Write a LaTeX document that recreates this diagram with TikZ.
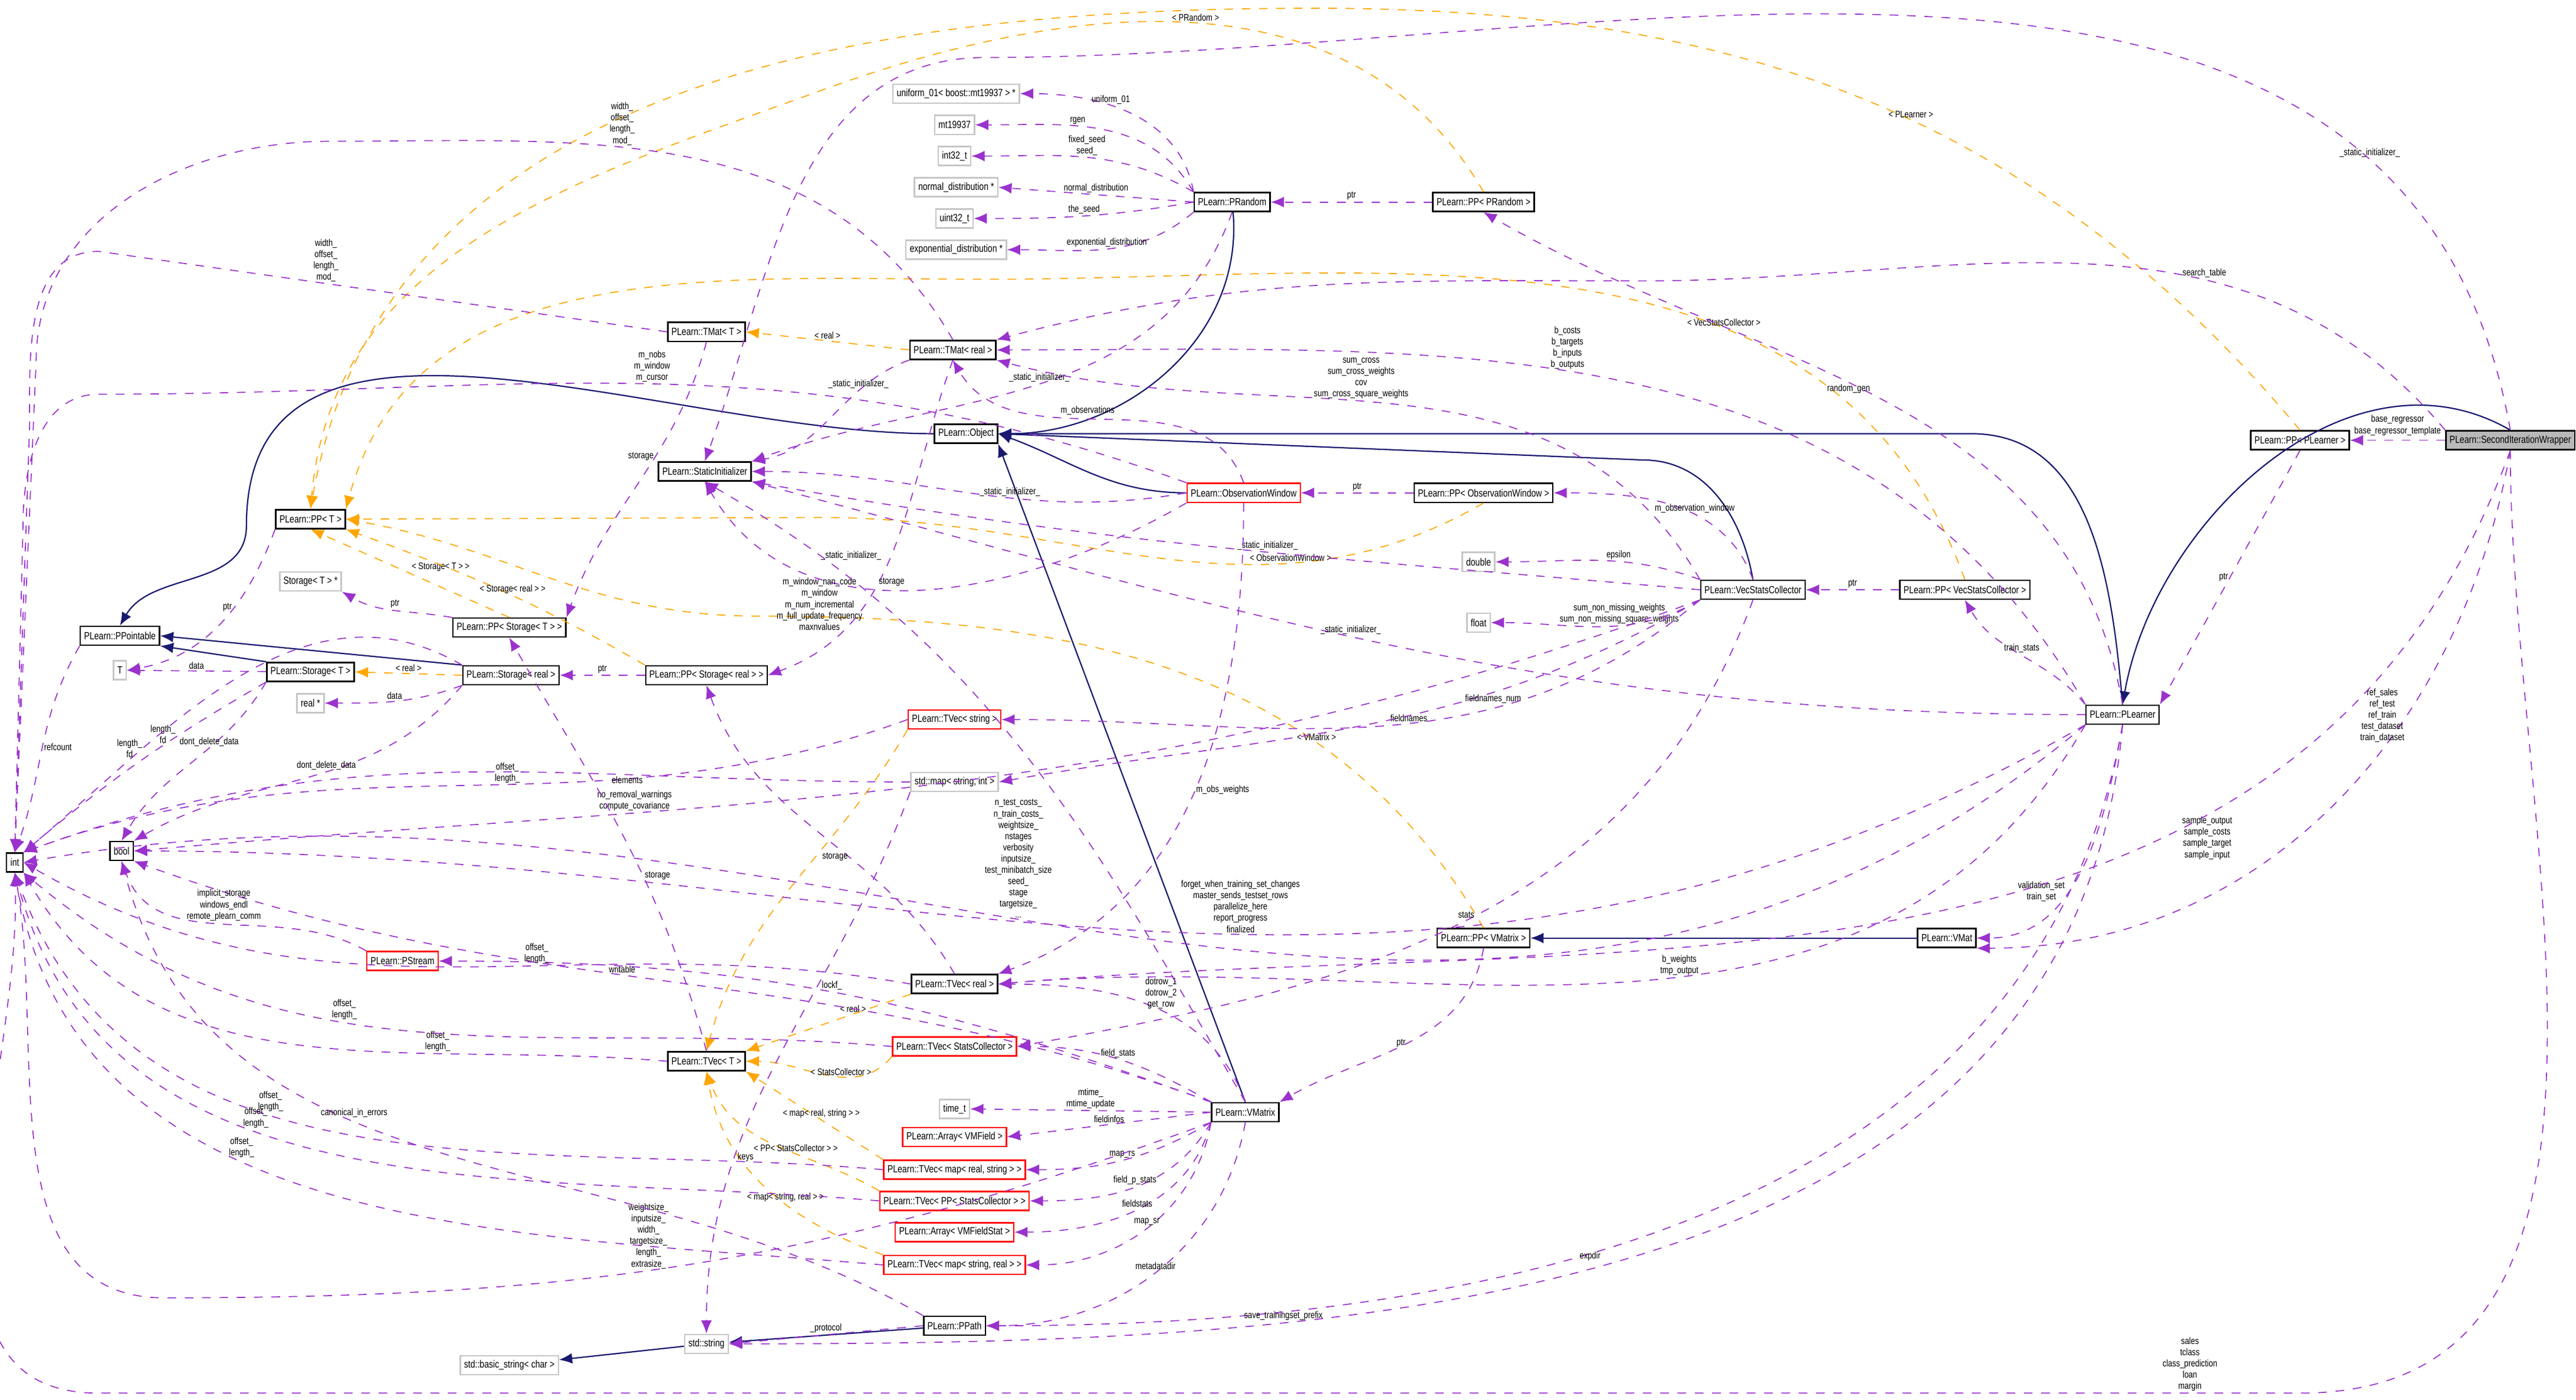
\documentclass[tikz,border=0pt]{standalone}
\usepackage{fontspec}
\setmainfont{Liberation Sans}[FakeStretch=0.8]
\usetikzlibrary{arrows.meta}

\definecolor{dxpurple}{RGB}{154,50,205}
\definecolor{dxorange}{RGB}{255,165,0}
\definecolor{dxnavy}{RGB}{25,25,112}

\tikzset{
  cls/.style={draw=black, line width=0.5pt, inner sep=1.3pt, minimum height=0.23cm, font=\fontsize{3.6}{4}\selectfont},
  ext/.style={cls, draw=gray!45},
  bad/.style={cls, draw=red},
  main/.style={cls, fill=gray!55},
  mem/.style={draw=dxpurple, dashed, line width=0.35pt, -{Latex[length=1.6mm,width=1.3mm]}},
  tpl/.style={draw=dxorange, dashed, line width=0.35pt, -{Latex[length=1.6mm,width=1.3mm]}},
  inh/.style={draw=dxnavy, line width=0.45pt, -{Latex[length=1.6mm,width=1.3mm]}},
  lbl/.style={font=\fontsize{3.3}{3.9}\selectfont, align=center, inner sep=0.5pt}
}

\begin{document}
\begin{tikzpicture}[x=0.02cm, y=-0.02cm]
\useasboundingbox (0,0) rectangle (1568,852);

% classes
\node[main] (siw) at (1528,268) {PLearn::SecondIterationWrapper};
\node[cls] (pplearner) at (1400,268) {PLearn::PP< PLearner >};
\node[cls] (plearner) at (1292,435) {PLearn::PLearner};
\node[cls] (ppvsc) at (1196,359) {PLearn::PP< VecStatsCollector >};
\node[cls] (vsc) at (1067,359) {PLearn::VecStatsCollector};
\node[ext] (double) at (900,342) {double};
\node[ext] (float) at (900,379) {float};
\node[cls] (ppow) at (903,300) {PLearn::PP< ObservationWindow >};
\node[bad] (ow) at (757,300) {PLearn::ObservationWindow};
\node[cls] (object) at (588,264) {PLearn::Object};
\node[cls] (prandom) at (750,123) {PLearn::PRandom};
\node[cls] (pprandom) at (903,123) {PLearn::PP< PRandom >};
\node[ext] (unif) at (582,57) {uniform\_01< boost::mt19937 > *};
\node[ext] (mt) at (581,76) {mt19937};
\node[ext] (int32) at (581,95) {int32\_t};
\node[ext] (normal) at (582,114) {normal\_distribution *};
\node[ext] (uint32) at (581,133) {uint32\_t};
\node[ext] (expo) at (582,152) {exponential\_distribution *};
\node[cls] (tmatreal) at (580,213) {PLearn::TMat< real >};
\node[cls] (tmatT) at (430,202) {PLearn::TMat< T >};
\node[cls] (statinit) at (429,287) {PLearn::StaticInitializer};
\node[cls] (ppT) at (189,316) {PLearn::PP< T >};
\node[ext] (storTptr) at (189,354) {Storage< T > *};
\node[cls] (ppstorT) at (310,382) {PLearn::PP< Storage< T > >};
\node[cls] (ppointable) at (73,387) {PLearn::PPointable};
\node[ext] (T) at (73,408) {T};
\node[cls] (storT) at (189,409) {PLearn::Storage< T >};
\node[cls] (storreal) at (311,411) {PLearn::Storage< real >};
\node[ext] (realptr) at (189,428) {real *};
\node[cls] (ppstorreal) at (430,411) {PLearn::PP< Storage< real > >};
\node[bad] (tvecstring) at (581,438) {PLearn::TVec< string >};
\node[ext] (mapsi) at (581,476) {std::map< string, int >};
\node[cls] (int) at (9,525) {int};
\node[cls] (bool) at (74,518) {bool};
\node[bad] (pstream) at (245,585) {PLearn::PStream};
\node[cls] (tvecreal) at (581,599) {PLearn::TVec< real >};
\node[bad] (tvecsc) at (581,637) {PLearn::TVec< StatsCollector >};
\node[cls] (tvecT) at (430,646) {PLearn::TVec< T >};
\node[ext] (timet) at (581,675) {time\_t};
\node[bad] (arrvmf) at (581,692) {PLearn::Array< VMField >};
\node[cls] (vmatrix) at (758,677) {PLearn::VMatrix};
\node[bad] (tvecmrs) at (581,712) {PLearn::TVec< map< real, string > >};
\node[bad] (tvecppsc) at (581,731) {PLearn::TVec< PP< StatsCollector > >};
\node[bad] (arrvmfs) at (581,750) {PLearn::Array< VMFieldStat >};
\node[bad] (tvecmsr) at (581,770) {PLearn::TVec< map< string, real > >};
\node[cls] (ppath) at (581,807) {PLearn::PPath};
\node[ext] (string) at (430,818) {std::string};
\node[ext] (bstring) at (310,831) {std::basic\_string< char >};
\node[cls] (ppvmatrix) at (903,571) {PLearn::PP< VMatrix >};
\node[cls] (vmat) at (1185,571) {PLearn::VMat};

% inheritance
\draw[inh] (prandom) to[out=-85,in=0] (object);
\draw[inh] (ow.west) to[out=180,in=-20] (object.east);
\draw[inh] (vsc.north) to[out=100,in=0] (1000,280) -- (object.east);
\draw[inh] (vmatrix.north) -- (object.south east);
\draw[inh] (plearner.north) to[out=95,in=0] (1200,264) -- (object.east);
\draw[inh] (object.west) to[out=180,in=90] (150,320) to[out=-90,in=60] (ppointable.north);
\draw[inh] (storT.north west) -- (ppointable.south east);
\draw[inh] (storreal.north west) -- (ppointable.east);
\draw[inh] (siw.north) to[out=150,in=80] (plearner.north);
\draw[inh] (vmat) -- (ppvmatrix);
\draw[inh] (ppath) -- (string);
\draw[inh] (string) -- (bstring);

% templates
\draw[tpl] (pplearner.north) to[out=130,in=0] node[lbl,pos=0.45,above] {< PLearner >} (800,5) to[out=180,in=80] (ppT.north);
\draw[tpl] (pprandom.north) to[out=120,in=20] node[lbl,pos=0.5,above] {< PRandom >} (500,55) to[out=-160,in=85] (ppT.north);
\draw[tpl] (ppvsc.north) to[out=110,in=0] node[lbl,pos=0.35,above] {< VecStatsCollector >} (600,170) to[out=180,in=75] (ppT.north east);
\draw[tpl] (ppow.south) to[out=-150,in=0] node[lbl,pos=0.3,above] {< ObservationWindow >} (500,315) -- (ppT.east);
\draw[tpl] (ppvmatrix.north) to[out=120,in=0] node[lbl,pos=0.3,above] {< VMatrix >} (460,375) to[out=180,in=-10] (ppT.east);
\draw[tpl] (ppstorT.north) -- node[lbl,pos=0.5,above right] {< Storage< T > >} (ppT.south);
\draw[tpl] (ppstorreal.north west) to[out=150,in=-20] node[lbl,pos=0.45,above] {< Storage< real > >} (ppT.south east);
\draw[tpl] (tmatreal.west) -- node[lbl,pos=0.5,above] {< real >} (tmatT.east);
\draw[tpl] (storreal.west) -- node[lbl,pos=0.5,above] {< real >} (storT.east);
\draw[tpl] (tvecstring.south west) to[out=-120,in=75] (tvecT.north);
\draw[tpl] (tvecreal.south west) -- node[lbl,pos=0.35,above] {< real >} (tvecT.north east);
\draw[tpl] (tvecsc.south west) to[out=-130,in=0] node[lbl,pos=0.4,above] {< StatsCollector >} (tvecT.east);
\draw[tpl] (tvecmrs.north west) -- node[lbl,pos=0.45,above] {< map< real, string > >} (tvecT.south east);
\draw[tpl] (tvecppsc.north west) to[out=150,in=-70] node[lbl,pos=0.4,above] {< PP< StatsCollector > >} (tvecT.south);
\draw[tpl] (tvecmsr.north west) to[out=160,in=-80] node[lbl,pos=0.4,above] {< map< string, real > >} (tvecT.south);

% members of PRandom
\draw[mem] (prandom.north west) to[out=100,in=0] node[lbl,pos=0.6,above] {uniform\_01} (unif.east);
\draw[mem] (prandom.north west) to[out=120,in=0] node[lbl,pos=0.6,above] {rgen} (mt.east);
\draw[mem] (prandom.north west) to[out=150,in=0] node[lbl,pos=0.5,above] {fixed\_seed\\seed\_} (int32.east);
\draw[mem] (prandom.west) -- node[lbl,pos=0.5,above] {normal\_distribution} (normal.east);
\draw[mem] (prandom.west) to[out=190,in=0] node[lbl,pos=0.5,above] {the\_seed} (uint32.east);
\draw[mem] (prandom.south west) to[out=-140,in=0] node[lbl,pos=0.5,above] {exponential\_distribution} (expo.east);
\draw[mem] (prandom.south) to[out=-110,in=20] node[lbl,pos=0.5,above] {\_static\_initializer\_} (statinit.north east);
\draw[mem] (pprandom) -- node[lbl,above] {ptr} (prandom);
\draw[mem] (plearner.north) to[out=100,in=-30] node[lbl,pos=0.55,below] {random\_gen} (pprandom.south);

% top and right side
\draw[mem] (siw.north) to[out=100,in=0] node[lbl,pos=0.2,above] {\_static\_initializer\_} (600,35) to[out=180,in=70] (statinit.north);
\draw[mem] (siw.north west) to[out=130,in=0] node[lbl,pos=0.35,above] {search\_table} (1000,171) to[out=180,in=15] (tmatreal.north east);
\draw[mem] (plearner.north west) to[out=120,in=0] node[lbl,pos=0.55,above] {b\_costs\\b\_targets\\b\_inputs\\b\_outputs} (tmatreal.east);
\draw[mem] (vsc.north west) to[out=120,in=-15] node[lbl,pos=0.55,above] {sum\_cross\\sum\_cross\_weights\\cov\\sum\_cross\_square\_weights} (tmatreal.south east);
\draw[mem] (ow.north) to[out=110,in=-60] node[lbl,pos=0.55,above] {m\_observations} (tmatreal.south);
\draw[mem] (tmatreal.south west) to[out=-160,in=10] node[lbl,pos=0.3,above] {\_static\_initializer\_} (statinit.north east);
\draw[mem] (tmatreal.north) to[out=120,in=0] node[lbl,pos=0.6,above] {width\_\\offset\_\\length\_\\mod\_} (200,86) to[out=180,in=90] (22,220) -- (int.north);
\draw[mem] (tmatT.west) -- node[lbl,pos=0.6,above] {width\_\\offset\_\\length\_\\mod\_} (60,153) to[out=180,in=90] (18,260) -- (int.north);
\draw[mem] (ow.north west) to[out=160,in=0] node[lbl,pos=0.5,above] {m\_nobs\\m\_window\\m\_cursor} (60,240) to[out=180,in=90] (14,320) -- (int.north);
\draw[mem] (ow.west) to[out=-170,in=0] node[lbl,pos=0.4,above] {\_static\_initializer\_} (statinit.east);
\draw[mem] (ow.south west) to[out=-150,in=-60] node[lbl,pos=0.7,below] {m\_window\_nan\_code\\m\_window\\m\_num\_incremental\\m\_full\_update\_frequency\\maxnvalues} (statinit.south);
\draw[mem] (ppow) -- node[lbl,above] {ptr} (ow);
\draw[mem] (vsc.north) to[out=110,in=0] node[lbl,pos=0.4,above] {m\_observation\_window} (ppow.east);
\draw[mem] (vsc.north west) to[out=160,in=0] node[lbl,pos=0.4,above] {epsilon} (double.east);
\draw[mem] (vsc.south west) to[out=-150,in=0] node[lbl,pos=0.4,above] {sum\_non\_missing\_weights\\sum\_non\_missing\_square\_weights} (float.east);
\draw[mem] (vsc.west) to[out=175,in=-10] node[lbl,pos=0.45,above] {\_static\_initializer\_} (statinit.south east);
\draw[mem] (vsc.south west) to[out=-140,in=0] node[lbl,pos=0.45,above] {fieldnames} (tvecstring.east);
\draw[mem] (vsc.south) to[out=-110,in=10] node[lbl,pos=0.5,above] {stats} (tvecsc.east);
\draw[mem] (vsc.south west) to[out=-160,in=5] node[lbl,pos=0.7,above] {no\_removal\_warnings\\compute\_covariance} (bool.east);
\draw[mem] (vsc.south west) to[out=-150,in=10] node[lbl,pos=0.3,below] {fieldnames\_num} (mapsi.east);
\draw[mem] (ppvsc) -- node[lbl,above] {ptr} (vsc);
\draw[mem] (plearner.north west) to[out=130,in=-60] node[lbl,pos=0.5,above] {train\_stats} (ppvsc.south);
\draw[mem] (plearner.west) to[out=180,in=-15] node[lbl,pos=0.55,above] {\_static\_initializer\_} (statinit.south east);
\draw[mem] (plearner.south west) to[out=-150,in=0] node[lbl,pos=0.45,above] {forget\_when\_training\_set\_changes\\master\_sends\_testset\_rows\\parallelize\_here\\report\_progress\\finalized} (bool.east);
\draw[mem] (plearner.south west) to[out=-140,in=10] node[lbl,pos=0.55,above] {n\_test\_costs\_\\n\_train\_costs\_\\weightsize\_\\nstages\\verbosity\\inputsize\_\\test\_minibatch\_size\\seed\_\\stage\\targetsize\_\\...} (int.east);
\draw[mem] (plearner.south west) to[out=-120,in=5] node[lbl,pos=0.45,above] {b\_weights\\tmp\_output} (tvecreal.east);
\draw[mem] (plearner.south) to[out=-100,in=0] node[lbl,pos=0.6,left] {validation\_set\\train\_set} (vmat.east);
\draw[mem] (plearner.south) to[out=-100,in=0] node[lbl,pos=0.6,right] {expdir} (ppath.east);
\draw[mem] (plearner.south) to[out=-95,in=0] node[lbl,pos=0.7,above] {save\_trainingset\_prefix} (string.east);
\draw[mem] (siw) -- node[lbl,above=1pt] {base\_regressor\\base\_regressor\_template} (pplearner);
\draw[mem] (pplearner.south) -- node[lbl,pos=0.5,left] {ptr} (plearner.north east);
\draw[mem] (siw.south) to[out=-100,in=0] node[lbl,pos=0.35,left] {ref\_sales\\ref\_test\\ref\_train\\test\_dataset\\train\_dataset} (vmat.south east);
\draw[mem] (siw.south) to[out=-110,in=5] node[lbl,pos=0.3,below] {sample\_output\\sample\_costs\\sample\_target\\sample\_input} (tvecreal.east);
\draw[mem] (siw.south) to[out=-90,in=0] (1400,848) -- node[lbl,pos=0.05,above] {sales\\tclass\\class\_prediction\\loan\\margin} (60,848) to[out=180,in=-88] (int.south);

% VMatrix members
\draw[mem] (ppvmatrix.south) to[out=-100,in=30] node[lbl,pos=0.5,left] {ptr} (vmatrix.north east);
\draw[mem] (vmatrix.north) to[out=110,in=0] node[lbl,pos=0.45,above] {dotrow\_1\\dotrow\_2\\get\_row} (tvecreal.east);
\draw[mem] (vmatrix.north west) to[out=150,in=0] node[lbl,pos=0.5,above] {field\_stats} (tvecsc.east);
\draw[mem] (vmatrix.west) -- node[lbl,pos=0.5,above] {mtime\_\\mtime\_update} (timet.east);
\draw[mem] (vmatrix.west) -- node[lbl,pos=0.5,above] {fieldinfos} (arrvmf.east);
\draw[mem] (vmatrix.south west) to[out=-150,in=0] node[lbl,pos=0.5,above] {map\_rs} (tvecmrs.east);
\draw[mem] (vmatrix.south west) to[out=-120,in=0] node[lbl,pos=0.5,above] {field\_p\_stats} (tvecppsc.east);
\draw[mem] (vmatrix.south west) to[out=-105,in=0] node[lbl,pos=0.5,above] {fieldstats} (arrvmfs.east);
\draw[mem] (vmatrix.south west) to[out=-100,in=0] node[lbl,pos=0.5,above] {map\_sr} (tvecmsr.east);
\draw[mem] (vmatrix.south) to[out=-100,in=0] node[lbl,pos=0.5,above] {metadatadir} (ppath.east);
\draw[mem] (vmatrix.north west) to[out=160,in=-20] node[lbl,pos=0.55,above] {writable} (bool.south east);
\draw[mem] (vmatrix.north) to[out=120,in=-30] node[lbl,pos=0.85,right] {\_static\_initializer\_} (statinit.south);
\draw[mem] (vmatrix.north west) to[out=160,in=0] node[lbl,pos=0.5,above] {lockf\_} (pstream.east);
\draw[mem] (vmatrix.south west) to[out=-160,in=0] node[lbl,pos=0.55,above] {weightsize\_\\inputsize\_\\width\_\\targetsize\_\\length\_\\extrasize\_} (100,790) to[out=180,in=-80] (int.south);
\draw[mem] (ow.south) to[out=-90,in=20] node[lbl,pos=0.5,right] {m\_obs\_weights} (tvecreal.north east);

% vectors, storages, pointers
\draw[mem] (tmatT.south) to[out=-105,in=70] node[lbl,pos=0.4,left] {storage} (ppstorT.north east);
\draw[mem] (tvecT.north) to[out=105,in=-60] node[lbl,pos=0.4,right] {storage} (ppstorT.south);
\draw[mem] (tmatreal.south) to[out=-110,in=20] node[lbl,pos=0.6,right] {storage} (ppstorreal.east);
\draw[mem] (tvecreal.north) to[out=120,in=-70] node[lbl,pos=0.4,left] {storage} (ppstorreal.south);
\draw[mem] (tvecT.west) to[out=175,in=-60] node[lbl,pos=0.3,above] {offset\_\\length\_} (int.south east);
\draw[mem] (tvecreal.west) to[out=170,in=-30] node[lbl,pos=0.4,above] {offset\_\\length\_} (int.east);
\draw[mem] (tvecstring.west) to[out=-160,in=20] node[lbl,pos=0.45,above] {offset\_\\length\_} (int.north east);
\draw[mem] (tvecsc.west) to[out=175,in=-40] node[lbl,pos=0.6,above] {offset\_\\length\_} (int.south east);
\draw[mem] (tvecmrs.west) to[out=175,in=-70] node[lbl,pos=0.6,above] {offset\_\\length\_} (int.south);
\draw[mem] (tvecppsc.west) to[out=175,in=-75] node[lbl,pos=0.6,above] {offset\_\\length\_} (int.south);
\draw[mem] (tvecmsr.west) to[out=175,in=-80] node[lbl,pos=0.6,above] {offset\_\\length\_} (int.south);
\draw[mem] (ppstorT) to[out=170,in=-30] node[lbl,pos=0.5,above] {ptr} (storTptr.south east);
\draw[mem] (ppstorreal) -- node[lbl,above] {ptr} (storreal);
\draw[mem] (ppT.south west) to[out=-110,in=10] node[lbl,pos=0.4,left] {ptr} (T.east);
\draw[mem] (storT) -- node[lbl,above] {data} (T);
\draw[mem] (storreal.south west) to[out=-160,in=0] node[lbl,pos=0.5,above] {data} (realptr.east);
\draw[mem] (storT.south west) to[out=-150,in=40] node[lbl,pos=0.4,above] {length\_\\fd} (int.north east);
\draw[mem] (storreal.north west) to[out=150,in=40] node[lbl,pos=0.75,above] {length\_\\fd} (int.north east);
\draw[mem] (storT.south west) to[out=-120,in=60] node[lbl,pos=0.4,above] {dont\_delete\_data} (bool.north);
\draw[mem] (storreal.south west) to[out=-130,in=30] node[lbl,pos=0.45,above] {dont\_delete\_data} (bool.north east);
\draw[mem] (ppointable.south west) to[out=-120,in=70] node[lbl,pos=0.5,right] {refcount} (int.north);
\draw[mem] (pstream.north west) to[out=150,in=-70] node[lbl,pos=0.5,above] {implicit\_storage\\windows\_endl\\remote\_plearn\_comm} (bool.south);
\draw[mem] (mapsi.south west) to[out=-110,in=90] node[lbl,pos=0.7,right] {keys} (string.north);
\draw[mem] (mapsi.west) to[out=180,in=20] node[lbl,pos=0.3,below] {elements} (int.north east);
\draw[mem] (ppath.west) -- node[lbl,above] {\_protocol} (string.east);
\draw[mem] (ppath.north west) to[out=150,in=-75] node[lbl,pos=0.6,above] {canonical\_in\_errors} (bool.south);
\end{tikzpicture}
\end{document}
